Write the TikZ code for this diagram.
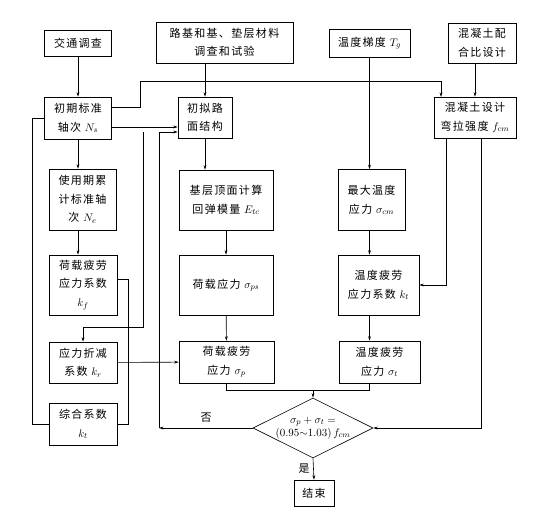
\documentclass[tikz,border=0pt]{standalone}
\usepackage{fontspec}
\newfontfamily\cjk[LetterSpace=12]{Noto Sans CJK SC}
\newcommand{\cjkfont}{\cjk\fontsize{11}{18.5}\selectfont}
\usetikzlibrary{arrows.meta,shapes.geometric}

\begin{document}
\begin{tikzpicture}[>={Stealth[length=4.5pt,width=2.8pt]}, x=1pt, y=-1pt,
  line width=0.6pt,
  box/.style={draw,align=center,inner sep=1pt,font=\cjkfont},
  lab/.style={font=\cjkfont,inner sep=1pt}]
  \useasboundingbox (0,0) rectangle (545,511);
  % top row
  \node[box,minimum width=67pt,minimum height=26pt] (traffic) at (78,43) {交通调查};
  \node[box,minimum width=137pt,minimum height=41pt] (material) at (224.5,42.5) {路基和基、垫层材料\\调查和试验};
  \node[box,minimum width=81pt,minimum height=28pt] (tgrad) at (369.5,43) {温度梯度 $T_g$};
  \node[box,minimum width=68pt,minimum height=40pt] (mix) at (482,43) {混凝土配\\合比设计};
  % second row
  \node[box,minimum width=67pt,minimum height=42pt] (ns) at (78,118) {初期标准\\轴次 $N_s$};
  \node[box,minimum width=54pt,minimum height=41pt] (trial) at (205,117.5) {初拟路\\面结构};
  \node[box,minimum width=82pt,minimum height=41pt] (fcm) at (475,117.5) {混凝土设计\\弯拉强度 $f_{cm}$};
  % third row
  \node[box,minimum width=67pt,minimum height=61pt] (ne) at (82.5,199.5) {使用期累\\计标准轴\\次 $N_e$};
  \node[box,minimum width=94pt,minimum height=60pt] (etc) at (226,200) {基层顶面计算\\回弹模量 $E_{tc}$};
  \node[box,minimum width=67pt,minimum height=61pt] (sigcm) at (371.5,200) {最大温度\\应力 $\sigma_{cm}$};
  % fourth row
  \node[box,minimum width=68pt,minimum height=60pt] (kf) at (83,285) {荷载疲劳\\应力系数\\$k_f$};
  \node[box,minimum width=94pt,minimum height=60pt] (sigps) at (226,285) {荷载应力 $\sigma_{ps}$};
  \node[box,minimum width=81pt,minimum height=60pt] (kt) at (378.5,285) {温度疲劳\\应力系数 $k_t$};
  % fifth row
  \node[box,minimum width=68pt,minimum height=41pt] (kr) at (83,362.5) {应力折减\\系数 $k_r$};
  \node[box,minimum width=95pt,minimum height=42pt] (sigp) at (226.5,362) {荷载疲劳\\应力 $\sigma_p$};
  \node[box,minimum width=81pt,minimum height=42pt] (sigt) at (379.5,362) {温度疲劳\\应力 $\sigma_t$};
  % bottom
  \node[box,minimum width=68pt,minimum height=42pt] (kc) at (83,424) {综合系数\\$k_t$};
  \node[draw,diamond,minimum width=120pt,minimum height=60pt,inner sep=0pt] (check) at (313,428) {};
  \node[align=center,inner sep=0pt,font=\fontsize{11}{13}\selectfont] (checktext) at (check) {$\sigma_p+\sigma_t=$\\$(0.95{\sim}1.03)\,f_{cm}$};
  \node[box,minimum width=40pt,minimum height=26pt] (stop) at (314,493) {结束};
  \coordinate (join) at (313,390);

  % inputs
  \draw[->] (traffic) -- (ns);
  \draw[->] (trial.north |- material.south) -- (trial.north);
  \draw[->] (tgrad.south) -- (tgrad.south |- sigcm.north);
  \draw[->] (fcm.north |- mix.south) -- (fcm.north);
  \draw[->] (ns.east |- 0,107) -- (140,107) |- (441,81) -- (441,97);
  \draw[->] (ns.east |- 0,127) -- (trial.west |- 0,127);
  \draw (ns.west) -- (32,118) |- (kc.west);
  % left column
  \draw[->] (ns.south) -- (ns.south |- ne.north);
  \draw[->] (ns.south |- ne.south) -- (ns.south |- kf.north);
  \draw (kf.east |- 0,279) -- (128,279) |- (kc.east);
  \draw[->] (143,132) -- (143,327) -| (kr.north);
  \draw[->] (kr) -- (sigp);
  % middle column
  \draw[->] (trial.south) -- (trial.south |- etc.north);
  \draw[->] (etc) -- (sigps);
  \draw[->] (sigps) -- (sigp);
  % right columns
  \draw[->] (tgrad.south |- sigcm.south) -- (tgrad.south |- kt.north);
  \draw[->] (tgrad.south |- kt.south) -- (tgrad.south |- sigt.north);
  \draw[->] (446,138) |- (kt.east);
  \draw[->] (481,138) |- (check.east);
  % check
  \draw (sigp.south) |- (join);
  \draw (tgrad.south |- sigt.south) |- (join);
  \draw[->] (join) -- (check.north);
  \draw[->] (check.west) -- (159,428);
  \draw[->] (159,428) -- (159,132) -- (trial.west |- 0,132);
  \node[lab] (no) at (206,418) {否};
  \draw[->] (check.south) -- (stop.north);
  \node[lab] (yes) at (304,469) {是};
\end{tikzpicture}
\end{document}
